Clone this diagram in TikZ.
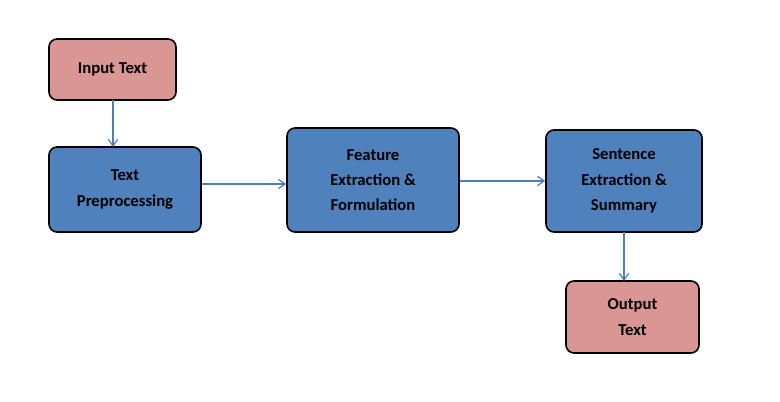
\documentclass[tikz,border=0pt]{standalone}
\usepackage{fontspec}
\setmainfont{Carlito}
\usetikzlibrary{arrows.meta}
\definecolor{pk}{HTML}{D99694}
\definecolor{bl}{HTML}{4F81BD}
\definecolor{ar}{HTML}{4A7EBB}
\begin{document}
\begin{tikzpicture}[x=0.75pt,y=-0.75pt,
 box/.style={draw=black,line width=1.2pt,rounded corners=6pt,font=\bfseries\fontsize{12.5}{19}\selectfont,align=center,inner sep=0pt},
 con/.style={draw=ar,line width=0.9pt,-{Straight Barb[length=5pt,width=7pt]}}]
\useasboundingbox (0,0) rectangle (780,402);
\node[box,fill=pk,minimum width=127*0.75pt,minimum height=61*0.75pt] (in) at (112.5,69.5) {Input Text};
\node[box,fill=bl,minimum width=152*0.75pt,minimum height=85*0.75pt] (pre) at (125,189.5) {Text\\Preprocessing};
\node[box,fill=bl,minimum width=172*0.75pt,minimum height=104*0.75pt] (fe) at (373,180) {Feature\\Extraction \&\\Formulation};
\node[box,fill=bl,minimum width=156*0.75pt,minimum height=102*0.75pt] (se) at (624,181) {Sentence\\Extraction \&\\Summary};
\node[box,fill=pk,minimum width=133*0.75pt,minimum height=72*0.75pt] (out) at (632.5,317) {Output\\Text};
\draw[con] (113,100) -- (113,147);
\draw[con] (pre.east |- 0,184) -- (fe.west |- 0,184);
\draw[con] (fe.east |- 0,181) -- (se.west |- 0,181);
\draw[con] (624,232) -- (624,281);
\end{tikzpicture}
\end{document}
